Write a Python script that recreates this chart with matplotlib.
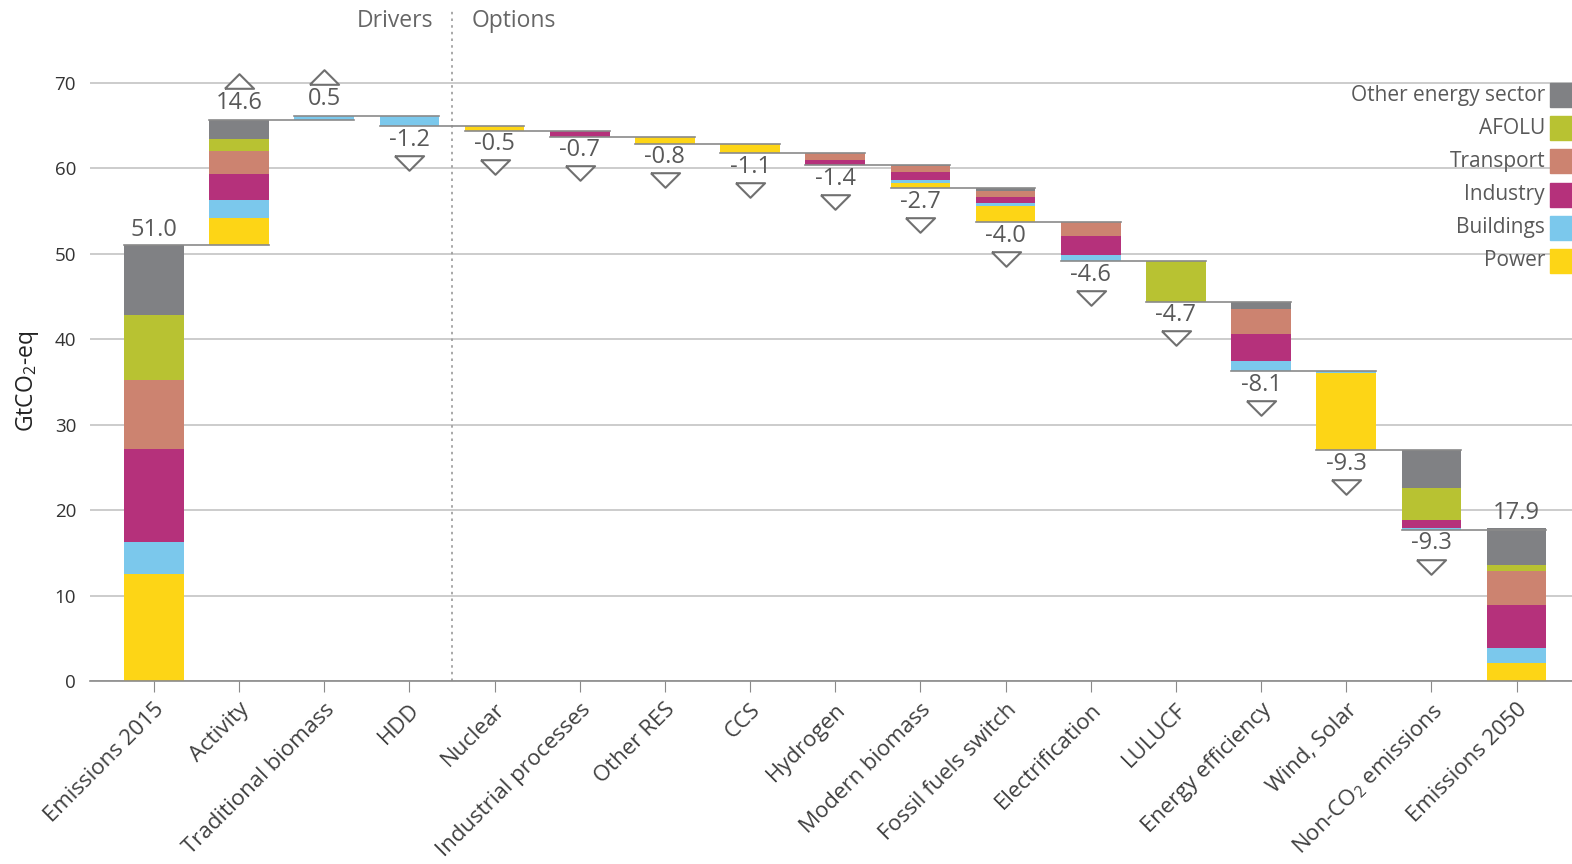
import numpy as np
import matplotlib.pyplot as plt
from matplotlib.patches import Rectangle

plt.rcParams['font.family'] = ['Open Sans', 'DejaVu Sans']
plt.rcParams['mathtext.fontset'] = 'custom'
plt.rcParams['mathtext.rm'] = 'Open Sans'
plt.rcParams['mathtext.it'] = 'Open Sans'

categories = ["Emissions 2015", "Activity", "Traditional biomass", "HDD", "Nuclear",
              "Industrial processes", "Other RES", "CCS", "Hydrogen", "Modern biomass",
              "Fossil fuels switch", "Electrification", "LULUCF", "Energy efficiency",
              "Wind, Solar", "Non-CO$_2$ emissions", "Emissions 2050"]
kinds = ["total", "up", "up", "down", "down", "down", "down", "down", "down", "down",
         "down", "down", "down", "down", "down", "down", "total"]

sectors = ["Power", "Buildings", "Industry", "Transport", "AFOLU", "Other energy sector"]
colors = ["#FDD516", "#7BC8EC", "#B5317B", "#CC8370", "#B8C232", "#808184"]

# magnitudes per category (GtCO2-eq)
power = [12.5, 3.2, 0, 0, 0.5, 0, 0.8, 1.1, 0, 0.6, 1.9, 0, 0, 0, 9.0, 0, 2.1]
buildings = [3.8, 2.1, 0.5, 1.2, 0, 0, 0, 0, 0, 0.3, 0.4, 0.7, 0, 1.2, 0.3, 0.2, 1.8]
industry = [10.9, 3.0, 0, 0, 0, 0.7, 0, 0, 0.6, 1.0, 0.6, 2.3, 0, 3.1, 0, 1.0, 5.0]
transport = [8.0, 2.7, 0, 0, 0, 0, 0, 0, 0.8, 0.7, 0.8, 1.6, 0, 2.9, 0, 0, 4.0]
afolu = [7.6, 1.4, 0, 0, 0, 0, 0, 0, 0, 0, 0, 0, 4.7, 0, 0, 3.7, 0.7]
other = [8.2, 2.2, 0, 0, 0, 0, 0, 0, 0, 0.1, 0.3, 0, 0, 0.9, 0, 4.4, 4.3]

stack = np.array([power, buildings, industry, transport, afolu, other])

TXT = "#595959"
GRID = "#c8c8c8"

fig = plt.figure(figsize=(15.72, 8.64), dpi=100)
ax = fig.add_axes([90 / 1572, 183 / 864, 1 - 90 / 1572, 681 / 864])
ax.set_xlim(-0.75, 16.65)
ax.set_ylim(0, 79.7)

x = np.arange(len(categories))
width = 0.7
totals = stack.sum(axis=0)

level = 0.0
ends = []
for i, kind in enumerate(kinds):
    if kind == "total":
        base = 0.0
        level = totals[i]
    elif kind == "up":
        base = level
        level = level + totals[i]
    else:
        level = level - totals[i]
        base = level
    ends.append(level)
    bottom = base
    for s in range(len(sectors)):
        h = stack[s, i]
        if h > 0:
            ax.bar(x[i], h, width, bottom=bottom, color=colors[s], zorder=2, linewidth=0)
        bottom += h

    top = base + totals[i]
    if kind == "total":
        ax.text(x[i], top + 1.8, f"{totals[i]:.1f}", ha="center", va="center",
                fontsize=17, color=TXT)
    elif kind == "up":
        ax.text(x[i], top + 2.0, f"{totals[i]:.1f}", ha="center", va="center",
                fontsize=17, color=TXT)
        ax.plot(x[i], top + 4.6, marker=[(-1, -0.5), (1, -0.5), (0, 0.5), (-1, -0.5)],
                markersize=21, mfc="white", mec="#707070", mew=1.5, zorder=3)
    else:
        ax.text(x[i], base - 1.6, f"-{totals[i]:.1f}", ha="center", va="center",
                fontsize=17, color=TXT)
        ax.plot(x[i], base - 4.3, marker=[(-1, 0.5), (1, 0.5), (0, -0.5), (-1, 0.5)],
                markersize=21, mfc="white", mec="#707070", mew=1.5, zorder=3)

# connectors
for i in range(len(categories) - 1):
    ax.plot([x[i] - width / 2, x[i + 1] + width / 2], [ends[i], ends[i]],
            color="#8a8a8a", lw=1.2, zorder=4)

ax.set_yticks(range(0, 71, 10))
ax.yaxis.grid(True, color=GRID, lw=1.3, zorder=0)
ax.set_axisbelow(True)
ax.tick_params(axis="y", length=0, pad=10, labelsize=13.5, labelcolor="#333333")
ax.set_xticks(x)
ax.set_xticklabels(categories, rotation=45, ha="right", rotation_mode="anchor",
                   fontsize=16, color="#404040")
ax.tick_params(axis="x", length=8, color="#8a8a8a", pad=5)
for side in ["left", "right", "top"]:
    ax.spines[side].set_visible(False)
ax.spines["bottom"].set_color("#8a8a8a")
ax.spines["bottom"].set_linewidth(1.2)

ax.set_ylabel("GtCO$_2$-eq", fontsize=16.5, color="#222222")
ax.yaxis.set_label_coords(-0.033, 0.44)

ax.axvline(3.5, ymin=0, ymax=0.985, color="#999999", lw=1.2, ls=(0, (1.5, 2.5)))
ax.text(3.28, 77.3, "Drivers", ha="right", va="center", fontsize=16.5, color="#666666")
ax.text(3.73, 77.3, "Options", ha="left", va="center", fontsize=16.5, color="#666666")

# legend, right aligned labels with swatches at the right edge
W, H = 1572, 864
for k, s in enumerate(range(len(sectors) - 1, -1, -1)):
    yc = 95 + k * 33.2
    fig.patches.append(Rectangle((1550 / W, 1 - (yc + 12) / H), 24 / W, 24 / H,
                                 transform=fig.transFigure, color=colors[s], zorder=5))
    fig.text(1545 / W, 1 - yc / H, sectors[s], ha="right", va="center",
             fontsize=15, color=TXT)

fig.savefig("out.png", dpi=100)
